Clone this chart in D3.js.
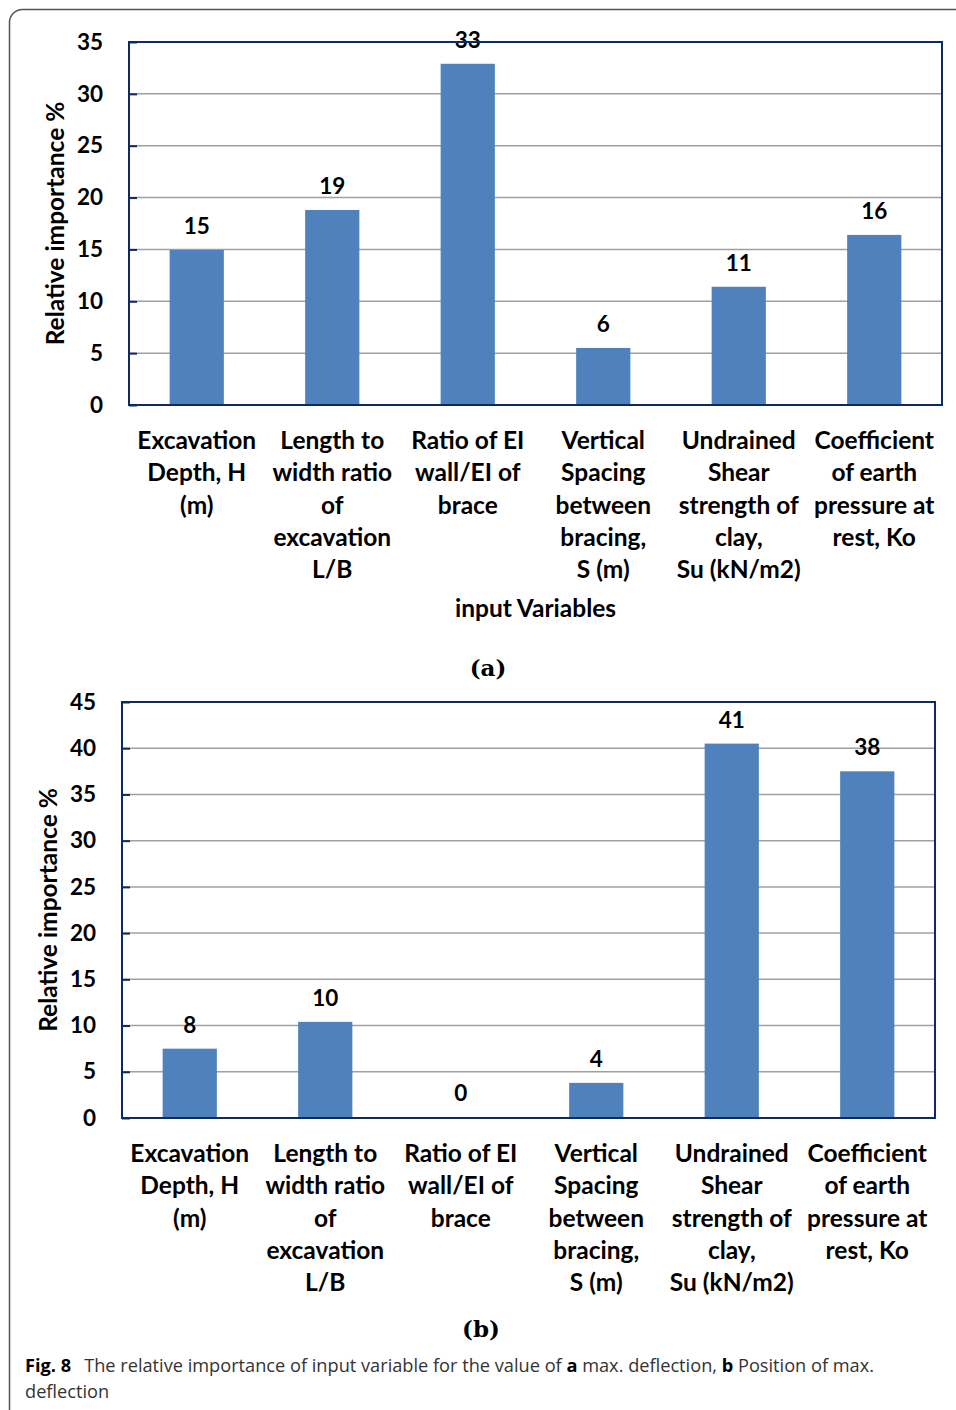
<!DOCTYPE html>
<html>
<head>
<meta charset="utf-8">
<script src="https://cdn.jsdelivr.net/npm/d3@7"></script>
<style>
  body { margin: 0; background: #fff; }
  svg { display: block; }
  .lbl { font-family: Lato, "Open Sans", sans-serif; font-weight: bold; fill: #000; }
</style>
</head>
<body>
<div id="fig"></div>
<script>
// categories (same for both panels), split into lines like the original
var categoryLines = [
    ["Excavation", "Depth, H", "(m)"],
    ["Length to", "width ratio", "of", "excavation", "L/B"],
    ["Ratio of EI", "wall/EI of", "brace"],
    ["Vertical", "Spacing", "between", "bracing,", "S (m)"],
    ["Undrained", "Shear", "strength of", "clay,", "Su (kN/m2)"],
    ["Coefficient", "of earth", "pressure at", "rest, Ko"]
];

// panel (a) max. deflection
var valuesA = [14.95, 18.8, 32.9, 5.5, 11.4, 16.4];
var ticksA = [0, 5, 10, 15, 20, 25, 30, 35];

// panel (b) position of max. deflection
var valuesB = [7.5, 10.4, 0.1, 3.8, 40.5, 37.5];
var ticksB = [0, 5, 10, 15, 20, 25, 30, 35, 40, 45];

var W = 956, H = 1410;
var navy = "#0d2a63", bar = "#4f81bd", grid = "#a0a0a0";
var textSize = "24.5px", numSize = "22.5px";

var svg = d3.select("#fig").append("svg")
    .attr("width", W)
    .attr("height", H);

// outer page frame (only top/left visible)
svg.append("rect")
    .attr("x", 9.5).attr("y", 9.5)
    .attr("width", 1000).attr("height", 1460)
    .attr("rx", 13).attr("ry", 13)
    .attr("fill", "none")
    .attr("stroke", "#555")
    .attr("stroke-width", 1.5);

var drawPanel = function(opt) {
    var g = svg.append("g");
    var x = d3.scaleBand()
        .domain(d3.range(opt.values.length))
        .range([opt.left, opt.right]);
    var y = d3.scaleLinear()
        .domain([0, d3.max(opt.ticks)])
        .range([opt.bottom, opt.top]);
    var bw = x.bandwidth() * 0.4;

    // gridlines
    g.selectAll(".grid").data(opt.ticks.slice(1, -1)).enter().append("line")
        .attr("x1", opt.left).attr("x2", opt.right)
        .attr("y1", function(d) { return y(d); })
        .attr("y2", function(d) { return y(d); })
        .attr("stroke", grid)
        .attr("stroke-width", 1.5);

    // bars
    g.selectAll(".bar").data(opt.values).enter().append("rect")
        .attr("x", function(d, i) { return x(i) + (x.bandwidth() - bw) / 2; })
        .attr("y", function(d) { return y(d); })
        .attr("width", bw)
        .attr("height", function(d) { return y(0) - y(d); })
        .attr("fill", bar);

    // value labels
    g.selectAll(".val").data(opt.values).enter().append("text")
        .attr("class", "lbl")
        .attr("x", function(d, i) { return x(i) + x.bandwidth() / 2; })
        .attr("y", function(d) { return y(d) - 16; })
        .attr("text-anchor", "middle")
        .style("font-size", numSize)
        .text(function(d) { return Math.round(d); });

    // plot frame
    g.append("rect")
        .attr("x", opt.left).attr("y", opt.top)
        .attr("width", opt.right - opt.left)
        .attr("height", opt.bottom - opt.top)
        .attr("fill", "none")
        .attr("stroke", navy)
        .attr("stroke-width", 2);

    // y axis
    var ax = g.append("g")
        .attr("transform", "translate(" + opt.left + ",0)")
        .call(d3.axisLeft(y).tickValues(opt.ticks).tickSizeInner(-8).tickSizeOuter(0).tickPadding(26));
    ax.select(".domain").remove();
    ax.selectAll("line").attr("stroke", navy).attr("stroke-width", 2);
    ax.selectAll("text")
        .attr("class", "lbl")
        .attr("fill", "#000")
        .style("font-size", numSize);

    // category labels
    var cat = g.selectAll(".cat").data(categoryLines).enter().append("text")
        .attr("class", "lbl")
        .attr("text-anchor", "middle")
        .style("font-size", textSize)
        .attr("transform", function(d, i) {
            return "translate(" + (x(i) + x.bandwidth() / 2) + "," + (opt.bottom + 44) + ")";
        });
    cat.selectAll("tspan").data(function(d) { return d; }).enter().append("tspan")
        .attr("x", 0)
        .attr("y", function(d, i) { return i * 32.3; })
        .text(function(d) { return d; });

    // y title
    g.append("text")
        .attr("class", "lbl")
        .attr("text-anchor", "middle")
        .style("font-size", textSize)
        .attr("transform", "translate(" + (opt.ytx + 9) + "," + ((opt.top + opt.bottom) / 2) + ") rotate(-90)")
        .text("Relative importance %");

    if (opt.xtitle) {
        g.append("text")
            .attr("class", "lbl")
            .attr("text-anchor", "middle")
            .style("font-size", textSize)
            .attr("x", (opt.left + opt.right) / 2)
            .attr("y", opt.bottom + 212)
            .text(opt.xtitle);
    }

    g.append("text")
        .attr("text-anchor", "middle")
        .style("font-family", "'DejaVu Serif', serif")
        .style("font-weight", "bold")
        .style("font-size", "23px")
        .attr("x", opt.tagX)
        .attr("y", opt.tagY)
        .text(opt.tag);
};

drawPanel({ values: valuesA, ticks: ticksA, left: 129, right: 942, top: 42, bottom: 405,
    ytx: 55, xtitle: "input Variables", tag: "(a)", tagX: 488, tagY: 676 });
drawPanel({ values: valuesB, ticks: ticksB, left: 122, right: 935, top: 702, bottom: 1118,
    ytx: 48, xtitle: null, tag: "(b)", tagX: 481, tagY: 1337 });

// caption
var cap = svg.append("text")
    .attr("x", 25).attr("y", 1372)
    .style("font-family", "'Open Sans', sans-serif")
    .style("font-size", "18.2px")
    .attr("fill", "#333");
cap.append("tspan").style("font-weight", "bold").attr("fill", "#000").text("Fig. 8");
cap.append("tspan").attr("dx", 13).text("The relative importance of input variable for the value of ");
cap.append("tspan").style("font-weight", "bold").attr("fill", "#000").text("a");
cap.append("tspan").text(" max. deflection, ");
cap.append("tspan").style("font-weight", "bold").attr("fill", "#000").text("b");
cap.append("tspan").text(" Position of max.");
svg.append("text")
    .attr("x", 25).attr("y", 1398)
    .style("font-family", "'Open Sans', sans-serif")
    .style("font-size", "18.2px")
    .attr("fill", "#333")
    .text("deflection");
</script>
</body>
</html>
